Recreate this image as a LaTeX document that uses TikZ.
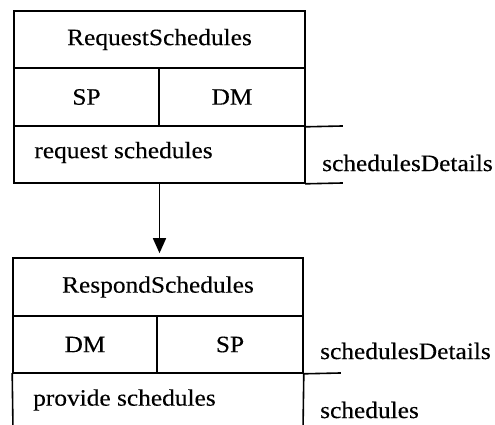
\documentclass[tikz,border=0pt]{standalone}
\usepackage{fontspec}
\setmainfont[FakeStretch=1.08,FakeBold=0.3]{Liberation Serif}
\usetikzlibrary{arrows.meta}

\tikzset{
  cell/.style={draw, line width=1.6pt, inner sep=0pt,
    font=\fontsize{23.5}{28}\selectfont},
  lbl/.style={anchor=west, inner sep=0pt,
    font=\fontsize{23.5}{28}\selectfont},
  wire/.style={line width=1.6pt, line cap=rect},
  flow/.style={line width=1.6pt, -{Triangle[length=15pt,width=13pt]}, shorten >=4pt}
}

\begin{document}
\begin{tikzpicture}[x=1pt,y=-1pt]
  \useasboundingbox (0,0) rectangle (495,425);

  % request box
  \node [cell, minimum width=291pt, minimum height=57pt] (reqTitle) at (159.5,39.5) {RequestSchedules};
  \node [cell, minimum width=145pt, minimum height=58pt] (reqSP) at (86.5,97) {SP};
  \node [cell, minimum width=146pt, minimum height=58pt] (reqDM) at (232,97) {DM};
  \node [cell, minimum width=291pt, minimum height=57pt] (reqAct) at (159.5,154.5) {};
  \node [lbl] (reqActText) at ([xshift=21pt,yshift=2pt]reqAct.west) {request schedules};

  \coordinate (reqOutA) at (342,126);
  \coordinate (reqOutB) at (342,183);
  \draw [wire] (reqDM.south east) -- (reqOutA);
  \draw [wire] (reqAct.south east) -- (reqOutB);
  \node [lbl] (reqData) at (322,163) {schedulesDetails};

  % respond box
  \node [cell, minimum width=290pt, minimum height=58pt] (resTitle) at (158,287) {RespondSchedules};
  \node [cell, minimum width=144pt, minimum height=57pt] (resDM) at (85,344.5) {DM};
  \node [cell, minimum width=146pt, minimum height=57pt] (resSP) at (230,344.5) {SP};

  \coordinate (resLeftEnd) at (13,430);
  \coordinate (resRightEnd) at (303,430);
  \coordinate (resOut) at (340,373);
  \draw [wire] (resDM.south west) -- (resLeftEnd);
  \draw [wire] (resSP.south east) -- (resRightEnd);
  \draw [wire] (resSP.south east) -- (resOut);
  \node [lbl] (resActText) at (33,400) {provide schedules};
  \node [lbl] (resDataA) at (320,351) {schedulesDetails};
  \node [lbl] (resDataB) at (320,410) {schedules};

  % flow between the two
  \draw [flow] (reqAct.south) -- (reqAct.south |- resTitle.north);
\end{tikzpicture}
\end{document}
